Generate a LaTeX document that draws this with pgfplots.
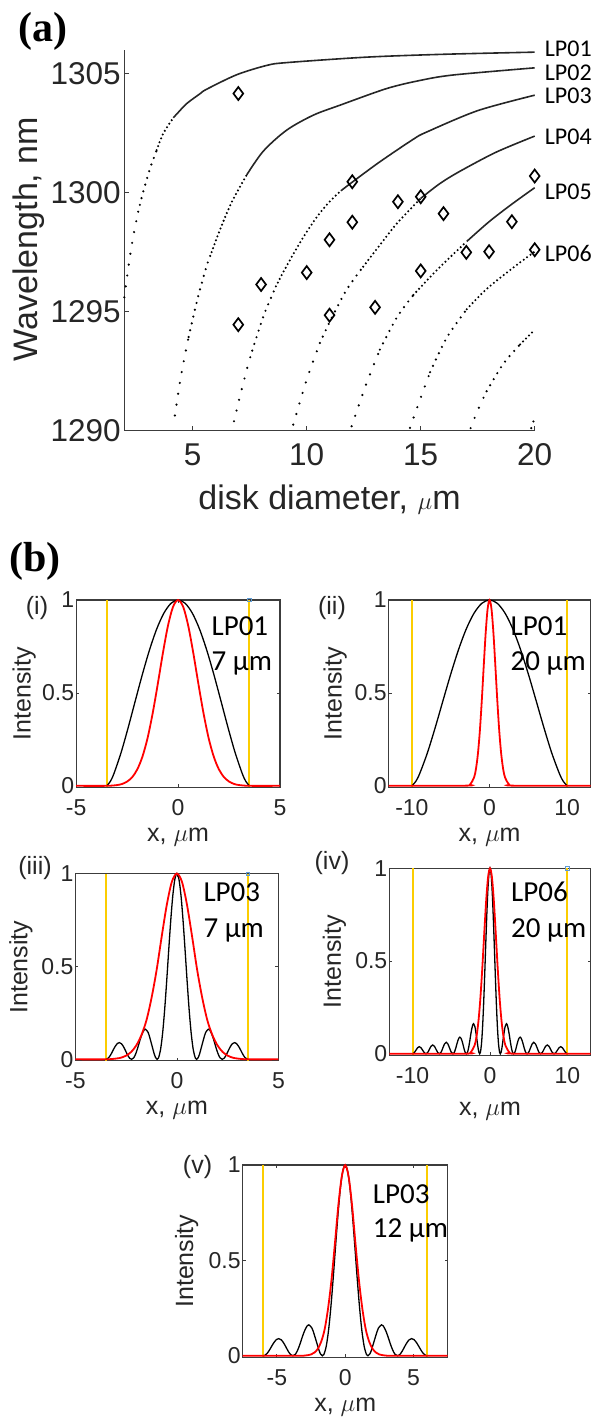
\documentclass[border=0pt]{standalone}
\usepackage{pgfplots}
\pgfplotsset{compat=1.18}
\usepackage{pgfplotstable}
\usepackage{fontspec}
\setmainfont{Liberation Sans}
\newfontfamily\calib{Carlito}
\newfontfamily\tnr{Liberation Serif}
\definecolor{myyel}{RGB}{252,205,0}
\definecolor{myblue}{RGB}{95,155,210}
\definecolor{axgray}{RGB}{60,60,60}
\definecolor{txtgray}{RGB}{38,38,38}

% ---------- panel (a): mode curves ----------
\pgfplotstableread{
x y
2.00 1295.60
2.22 1297.15
2.39 1298.15
2.61 1299.20
2.83 1300.04
3.13 1301.02
3.42 1301.79
3.71 1302.49
4.15 1303.15
4.37 1303.38
4.74 1303.75
5.32 1304.16
5.61 1304.35
6.93 1304.96
8.24 1305.35
9.12 1305.47
12.63 1305.70
16.00 1305.82
20.00 1305.91
}\lpA
\pgfplotstableread{
x y
4.22 1290.63
4.41 1291.86
4.62 1292.98
4.82 1293.93
5.03 1294.80
5.22 1295.57
5.42 1296.27
5.61 1296.92
5.83 1297.50
6.20 1298.45
6.71 1299.60
7.37 1300.75
8.10 1301.75
9.12 1302.63
10.29 1303.26
11.46 1303.68
13.51 1304.38
14.97 1304.72
16.43 1304.95
20.00 1305.25
}\lpB
\pgfplotstableread{
x y
6.81 1290.39
7.02 1291.23
7.22 1292.00
7.41 1292.70
7.61 1293.36
7.81 1293.96
8.00 1294.52
8.21 1295.08
8.43 1295.57
8.65 1296.06
8.90 1296.53
9.19 1297.04
9.63 1297.78
10.00 1298.35
10.50 1299.05
11.00 1299.62
11.50 1300.08
12.02 1300.46
13.21 1301.30
14.68 1302.25
15.26 1302.55
17.50 1303.45
20.00 1304.10
}\lpC
\pgfplotstableread{
x y
9.41 1290.25
10.00 1292.14
10.58 1293.68
11.02 1294.59
11.75 1295.92
12.48 1296.89
13.21 1297.80
13.95 1298.70
15.00 1299.76
15.85 1300.39
16.72 1300.90
18.30 1301.70
20.00 1302.38
}\lpD
\pgfplotstableread{
x y
11.97 1290.18
12.63 1292.00
13.21 1293.40
13.95 1294.75
14.68 1295.70
15.41 1296.45
16.14 1297.15
17.02 1297.95
18.00 1298.78
19.00 1299.52
20.00 1300.21
}\lpE
\pgfplotstableread{
x y
14.53 1290.11
14.97 1291.30
15.41 1292.45
16.14 1293.90
17.02 1295.10
17.89 1295.95
19.06 1296.85
20.00 1297.52
}\lpF
\pgfplotstableread{
x y
17.19 1290.10
17.50 1290.85
17.89 1291.65
18.62 1292.80
19.36 1293.62
20.00 1294.24
}\lpG
\pgfplotstableread{
x y
19.85 1290.10
20.00 1290.55
}\lpH
\pgfplotstableread{
x y
7 1304.17
7 1294.45
8 1296.14
10 1296.64
11 1298.02
11 1294.85
12 1300.46
12 1298.76
13 1295.18
14 1299.62
15 1299.83
15 1296.71
16 1299.12
17 1297.49
18 1297.52
19 1298.78
20 1300.70
20 1297.60
}\diam

% ---------- panel (b) profiles ----------
\pgfplotstableread{
x y
-3.5 0
-3.325 0.0237
-3.15 0.0654
-2.8 0.1780
-2.45 0.3132
-2.1 0.4579
-1.75 0.6009
-1.4 0.7323
-1.05 0.8440
-0.7 0.9289
-0.35 0.9820
0 1
0.35 0.9820
0.7 0.9289
1.05 0.8440
1.4 0.7323
1.75 0.6009
2.1 0.4579
2.45 0.3132
2.8 0.1780
3.15 0.0654
3.325 0.0237
3.5 0
}\bIk
\pgfplotstableread{
x y
-5 0
-3.5 0
-3 0.004
-2.75 0.010
-2.5 0.023
-2.25 0.047
-2 0.089
-1.75 0.157
-1.5 0.256
-1.25 0.389
-1 0.546
-0.75 0.712
-0.5 0.860
-0.25 0.963
0 1
0.25 0.963
0.5 0.860
0.75 0.712
1 0.546
1.25 0.389
1.5 0.256
1.75 0.157
2 0.089
2.25 0.047
2.5 0.023
2.75 0.010
3 0.004
3.5 0
5 0
}\bIr
\pgfplotstableread{
x y
-10 0
-9.5 0.0237
-9 0.0654
-8 0.1780
-7 0.3132
-6 0.4579
-5 0.6009
-4 0.7323
-3 0.8440
-2 0.9289
-1 0.9820
0 1
1 0.9820
2 0.9289
3 0.8440
4 0.7323
5 0.6009
6 0.4579
7 0.3132
8 0.1780
9 0.0654
9.5 0.0237
10 0
}\bIIk
\pgfplotstableread{
x y
-13 0
-3 0.001
-2.5 0.008
-2 0.044
-1.75 0.091
-1.5 0.172
-1.25 0.295
-1 0.458
-0.75 0.644
-0.5 0.822
-0.25 0.952
0 1
0.25 0.952
0.5 0.822
0.75 0.644
1 0.458
1.25 0.295
1.5 0.172
1.75 0.091
2 0.044
2.5 0.008
3 0.001
13 0
}\bIIr
\pgfplotstableread{
x y
-3.5 0
-3.4377 0.0018
-3.3366 0.0118
-3.2355 0.0295
-3.1344 0.0510
-3.0333 0.0709
-2.9322 0.0852
-2.8376 0.0900
-2.7300 0.0838
-2.6289 0.0676
-2.5278 0.0457
-2.4266 0.0227
-2.3255 0.0057
-2.2325 0
-2.1233 0.0085
-2.0222 0.0315
-1.9211 0.0647
-1.8200 0.1027
-1.7189 0.1351
-1.6178 0.1577
-1.5498 0.1622
-1.4155 0.1445
-1.3144 0.1088
-1.2133 0.0676
-1.1122 0.0271
-1.0515 0.0094
-0.9727 0
-0.9100 0.0067
-0.8089 0.0501
-0.7078 0.1362
-0.6067 0.2620
-0.5056 0.4172
-0.4044 0.5855
-0.3033 0.7469
-0.2022 0.8807
-0.1011 0.9691
0 1
0.1011 0.9691
0.2022 0.8807
0.3033 0.7469
0.4044 0.5855
0.5056 0.4172
0.6067 0.2620
0.7078 0.1362
0.8089 0.0501
0.9100 0.0067
0.9727 0
1.0515 0.0094
1.1122 0.0271
1.2133 0.0676
1.3144 0.1088
1.4155 0.1445
1.5498 0.1622
1.6178 0.1577
1.7189 0.1351
1.8200 0.1027
1.9211 0.0647
2.0222 0.0315
2.1233 0.0085
2.2325 0
2.3255 0.0057
2.4266 0.0227
2.5278 0.0457
2.6289 0.0676
2.7300 0.0838
2.8376 0.0900
2.9322 0.0852
3.0333 0.0709
3.1344 0.0510
3.2355 0.0295
3.3366 0.0118
3.4377 0.0018
3.5 0
}\bIIIk
\pgfplotstableread{
x y
-5 0
-3.5 0
-3 0.004
-2.75 0.009
-2.5 0.020
-2.25 0.040
-2 0.075
-1.75 0.130
-1.5 0.210
-1.25 0.330
-1 0.480
-0.75 0.660
-0.5 0.830
-0.25 0.955
0 1
0.25 0.955
0.5 0.830
0.75 0.660
1 0.480
1.25 0.330
1.5 0.210
1.75 0.130
2 0.075
2.25 0.040
2.5 0.020
2.75 0.009
3 0.004
3.5 0
5 0
}\bIIIr
\pgfplotstableread{
x y
-10.0 0
-9.7828 0.0057
-9.5656 0.0193
-9.3484 0.0329
-9.1312 0.0386
-8.9140 0.0329
-8.6968 0.0193
-8.4795 0.0057
-8.2623 0
-8.0453 0.0070
-7.8281 0.0239
-7.6110 0.0407
-7.3938 0.0477
-7.1766 0.0407
-6.9595 0.0239
-6.7423 0.0070
-6.5251 0
-6.3081 0.0091
-6.0911 0.0312
-5.8740 0.0533
-5.6570 0.0624
-5.4399 0.0533
-5.2229 0.0312
-5.0058 0.0091
-4.7888 0
-4.7036 0.0018
-4.5653 0.0118
-4.4270 0.0295
-4.2886 0.0510
-4.1503 0.0709
-4.0119 0.0852
-3.8824 0.0900
-3.7352 0.0838
-3.5969 0.0676
-3.4586 0.0457
-3.3202 0.0227
-3.1819 0.0057
-3.0546 0
-2.9052 0.0085
-2.7669 0.0315
-2.6285 0.0647
-2.4902 0.1027
-2.3518 0.1351
-2.2135 0.1577
-2.1205 0.1622
-1.9368 0.1445
-1.7985 0.1088
-1.6601 0.0676
-1.5218 0.0271
-1.4388 0.0094
-1.3308 0
-1.2451 0.0067
-1.1067 0.0501
-0.9684 0.1362
-0.8301 0.2620
-0.6917 0.4172
-0.5534 0.5855
-0.4150 0.7469
-0.2767 0.8807
-0.1383 0.9691
0 1
0.1383 0.9691
0.2767 0.8807
0.4150 0.7469
0.5534 0.5855
0.6917 0.4172
0.8301 0.2620
0.9684 0.1362
1.1067 0.0501
1.2451 0.0067
1.3308 0
1.4388 0.0094
1.5218 0.0271
1.6601 0.0676
1.7985 0.1088
1.9368 0.1445
2.1205 0.1622
2.2135 0.1577
2.3518 0.1351
2.4902 0.1027
2.6285 0.0647
2.7669 0.0315
2.9052 0.0085
3.0546 0
3.1819 0.0057
3.3202 0.0227
3.4586 0.0457
3.5969 0.0676
3.7352 0.0838
3.8824 0.0900
4.0119 0.0852
4.1503 0.0709
4.2886 0.0510
4.4270 0.0295
4.5653 0.0118
4.7036 0.0018
4.7888 0
5.0058 0.0091
5.2229 0.0312
5.4399 0.0533
5.6570 0.0624
5.8740 0.0533
6.0911 0.0312
6.3081 0.0091
6.5251 0
6.7423 0.0070
6.9595 0.0239
7.1766 0.0407
7.3938 0.0477
7.6110 0.0407
7.8281 0.0239
8.0453 0.0070
8.2623 0
8.4795 0.0057
8.6968 0.0193
8.9140 0.0329
9.1312 0.0386
9.3484 0.0329
9.5656 0.0193
9.7828 0.0057
10.0 0
}\bIVk
\pgfplotstableread{
x y
-6.0 0
-5.8932 0.0018
-5.7199 0.0118
-5.5466 0.0295
-5.3732 0.0510
-5.1999 0.0709
-5.0266 0.0852
-4.8643 0.0900
-4.6799 0.0838
-4.5066 0.0676
-4.3333 0.0457
-4.1599 0.0227
-3.9866 0.0057
-3.8271 0
-3.6399 0.0085
-3.4666 0.0315
-3.2933 0.0647
-3.1199 0.1027
-2.9466 0.1351
-2.7733 0.1577
-2.6568 0.1622
-2.4266 0.1445
-2.2533 0.1088
-2.0800 0.0676
-1.9066 0.0271
-1.8026 0.0094
-1.6674 0
-1.5600 0.0067
-1.3866 0.0501
-1.2133 0.1362
-1.0400 0.2620
-0.8667 0.4172
-0.6933 0.5855
-0.5200 0.7469
-0.3467 0.8807
-0.1733 0.9691
0 1
0.1733 0.9691
0.3467 0.8807
0.5200 0.7469
0.6933 0.5855
0.8667 0.4172
1.0400 0.2620
1.2133 0.1362
1.3866 0.0501
1.5600 0.0067
1.6674 0
1.8026 0.0094
1.9066 0.0271
2.0800 0.0676
2.2533 0.1088
2.4266 0.1445
2.6568 0.1622
2.7733 0.1577
2.9466 0.1351
3.1199 0.1027
3.2933 0.0647
3.4666 0.0315
3.6399 0.0085
3.8271 0
3.9866 0.0057
4.1599 0.0227
4.3333 0.0457
4.5066 0.0676
4.6799 0.0838
4.8643 0.0900
5.0266 0.0852
5.1999 0.0709
5.3732 0.0510
5.5466 0.0295
5.7199 0.0118
5.8932 0.0018
6.0 0
}\bVk
\pgfplotstableread{
x y
-7.5 0
-3.5 0
-3 0.001
-2.75 0.003
-2.5 0.007
-2.25 0.017
-2 0.037
-1.75 0.075
-1.5 0.140
-1.25 0.250
-1 0.400
-0.75 0.590
-0.5 0.790
-0.25 0.940
0 1
0.25 0.940
0.5 0.790
0.75 0.590
1 0.400
1.25 0.250
1.5 0.140
1.75 0.075
2 0.037
2.25 0.017
2.5 0.007
2.75 0.003
3 0.001
3.5 0
7.5 0
}\bVr

\pgfplotsset{
  dotA/.style={smooth, line width=2.4pt, line cap=round, dash pattern=on 0pt off 11pt, black},
  dotB/.style={smooth, line width=2.4pt, line cap=round, dash pattern=on 0pt off 7pt, black},
  dotC/.style={smooth, line width=2.3pt, line cap=round, dash pattern=on 0pt off 4.2pt, black},
  solidL/.style={smooth, line width=1.6pt, black!85},
  bpanel/.style={
    scale only axis, clip=false,
    ymin=-0.008, ymax=1, ytick={0,0.5,1},
    tick align=inside, major tick length=3pt,
    axis line style={line width=1.3pt, axgray},
    tick style={axgray, line width=0.8pt},
    tick label style={font=\fontsize{23}{23}\selectfont, text=txtgray},
    /pgf/number format/assume math mode=true,
    xticklabel style={yshift=-8.5pt},
    yticklabel style={xshift=1.5pt},
    label style={font=\fontsize{25}{25}\selectfont, text=txtgray},
    xlabel={x, $\mu$m}, ylabel={Intensity},
  },
  yel/.style={myyel, line width=2pt},
  blk/.style={black, line width=1.3pt, smooth},
  rd/.style={red, line width=1.8pt, smooth},
  bmark/.style={only marks, mark=square, mark size=1.6pt, myblue, mark options={line width=0.8pt}},
}
\tikzset{lplab/.style={anchor=west, inner sep=0pt, xshift=10pt, font=\calib\fontsize{24}{24}\selectfont}}
\newcommand{\seg}[4]{\addplot[#1, restrict x to domain=#2:#3] table {#4};}

\begin{document}
\begin{tikzpicture}
\useasboundingbox (0,0) rectangle (597pt,-1417pt);

% ===== (a) =====
\begin{axis}[
  at={(124.3pt,-50pt)}, anchor=north west,
  scale only axis, width=410.4pt, height=380.5pt,
  xmin=2, xmax=20, ymin=1290, ymax=1306,
  axis x line*=bottom, axis y line*=left,
  xtick={5,10,15,20}, ytick={1290,1295,1300,1305},
  scaled ticks=false,
  tick align=inside, major tick length=4.5pt,
  axis line style={line width=1.6pt, axgray},
  tick style={axgray, line width=1pt},
  tick label style={font=\fontsize{31.5}{31.5}\selectfont, text=txtgray},
  /pgf/number format/assume math mode=true,
  /pgf/number format/1000 sep={},
  xticklabel style={yshift=-9.7pt},
  xlabel={disk diameter, $\mu$m}, ylabel={Wavelength, nm},
  label style={font=\fontsize{34}{34}\selectfont, text=txtgray},
  xlabel style={at={(axis description cs:0.5,-0.1827)}, anchor=center},
  ylabel style={at={(axis description cs:-0.2332,0.503)}, anchor=center},
  clip=false,
]
\seg{dotA}{2.00}{2.61}{\lpA}
\seg{dotB}{2.61}{3.42}{\lpA}
\seg{dotC}{3.42}{4.15}{\lpA}
\seg{solidL}{4.15}{20}{\lpA}
\seg{dotA}{4.22}{4.82}{\lpB}
\seg{dotB}{4.82}{5.83}{\lpB}
\seg{dotC}{5.83}{7.37}{\lpB}
\seg{solidL}{7.37}{20}{\lpB}
\seg{dotA}{6.81}{7.61}{\lpC}
\seg{dotB}{7.61}{8.65}{\lpC}
\seg{dotC}{8.65}{11.5}{\lpC}
\seg{solidL}{11.5}{20}{\lpC}
\seg{dotA}{9.41}{10.58}{\lpD}
\seg{dotB}{10.58}{12.48}{\lpD}
\seg{dotC}{12.48}{15.0}{\lpD}
\seg{solidL}{15.0}{20}{\lpD}
\seg{dotA}{11.97}{13.21}{\lpE}
\seg{dotB}{13.21}{14.68}{\lpE}
\seg{dotC}{14.68}{17.02}{\lpE}
\seg{solidL}{17.02}{20}{\lpE}
\seg{dotA}{14.53}{15.41}{\lpF}
\seg{dotB}{15.41}{17.02}{\lpF}
\seg{dotC}{17.02}{20}{\lpF}
\seg{dotA}{17.19}{17.89}{\lpG}
\seg{dotB}{17.89}{19.36}{\lpG}
\seg{dotC}{19.36}{20}{\lpG}
\addplot[dotB] table {\lpH};
\addplot[only marks, mark=diamond, mark size=6.5pt, mark options={line width=1.7pt, black}] table {\diam};
\node[lplab] at (axis cs:20,1306.04) {LP01};
\node[lplab] at (axis cs:20,1305.03) {LP02};
\node[lplab] at (axis cs:20,1304.06) {LP03};
\node[lplab] at (axis cs:20,1302.37) {LP04};
\node[lplab] at (axis cs:20,1300.02) {LP05};
\node[lplab] at (axis cs:20,1297.44) {LP06};
\end{axis}

% ===== (i) =====
\begin{axis}[bpanel, at={(76.2pt,-600pt)}, anchor=north west,
  width=203.8pt, height=187.3pt, xmin=-5, xmax=5, xtick={-5,0,5},
  xlabel style={at={(axis description cs:0.5,-0.2637)}, anchor=center},
  ylabel style={at={(axis description cs:-0.255,0.5)}, anchor=center}]
\addplot[yel] coordinates {(-3.5,-0.008) (-3.5,1)};
\addplot[yel] coordinates {(3.5,-0.008) (3.5,1)};
\addplot[blk] table {\bIk};
\addplot[rd] table {\bIr};
\addplot[bmark] coordinates {(3.5,1)};
\end{axis}

% ===== (ii) =====
\begin{axis}[bpanel, at={(388.6pt,-600pt)}, anchor=north west,
  width=201.9pt, height=187.3pt, xmin=-13, xmax=13, xtick={-10,0,10},
  xlabel style={at={(axis description cs:0.5,-0.2637)}, anchor=center},
  ylabel style={at={(axis description cs:-0.2645,0.5)}, anchor=center}]
\addplot[yel] coordinates {(-10,-0.008) (-10,1)};
\addplot[yel] coordinates {(10,-0.008) (10,1)};
\addplot[blk] table {\bIIk};
\addplot[rd] table {\bIIr};
\end{axis}

% ===== (iii) =====
\begin{axis}[bpanel, at={(75.4pt,-873.5pt)}, anchor=north west,
  width=203pt, height=187.3pt, xmin=-5, xmax=5, xtick={-5,0,5},
  xlabel style={at={(axis description cs:0.5,-0.262)}, anchor=center},
  ylabel style={at={(axis description cs:-0.268,0.5)}, anchor=center}]
\addplot[yel] coordinates {(-3.5,-0.008) (-3.5,1)};
\addplot[yel] coordinates {(3.5,-0.008) (3.5,1)};
\addplot[blk] table {\bIIIk};
\addplot[rd] table {\bIIIr};
\addplot[bmark] coordinates {(3.5,1)};
\end{axis}

% ===== (iv) =====
\begin{axis}[bpanel, at={(389.3pt,-868.3pt)}, anchor=north west,
  width=201.4pt, height=187pt, xmin=-13, xmax=13, xtick={-10,0,10},
  xlabel style={at={(axis description cs:0.5,-0.30)}, anchor=center},
  ylabel style={at={(axis description cs:-0.273,0.5)}, anchor=center}]
\addplot[yel] coordinates {(-10,-0.008) (-10,1)};
\addplot[yel] coordinates {(10,-0.008) (10,1)};
\addplot[blk] table {\bIVk};
\addplot[rd] table {\bIIr};
\addplot[bmark] coordinates {(10,1)};
\end{axis}

% ===== (v) =====
\begin{axis}[bpanel, at={(242.7pt,-1165pt)}, anchor=north west,
  width=205pt, height=192.3pt, xmin=-7.5, xmax=7.5, xtick={-5,0,5},
  xlabel style={at={(axis description cs:0.5,-0.257)}, anchor=center},
  ylabel style={at={(axis description cs:-0.273,0.5)}, anchor=center}]
\addplot[yel] coordinates {(-6,-0.008) (-6,1)};
\addplot[yel] coordinates {(6,-0.008) (6,1)};
\addplot[blk] table {\bVk};
\addplot[rd] table {\bVr};
\end{axis}

% ===== annotations =====
\node[font=\tnr\bfseries\fontsize{42}{42}\selectfont] at (43pt,-31pt) {(a)};
\node[font=\tnr\bfseries\fontsize{42}{42}\selectfont] at (35pt,-561pt) {(b)};
\node[font=\fontsize{25}{25}\selectfont, text=txtgray] at (37pt,-608.5pt) {(i)};
\node[font=\fontsize{25}{25}\selectfont, text=txtgray] at (332pt,-608.5pt) {(ii)};
\node[font=\fontsize{25}{25}\selectfont, text=txtgray] at (35pt,-868pt) {(iii)};
\node[font=\fontsize{25}{25}\selectfont, text=txtgray] at (332pt,-863pt) {(iv)};
\node[font=\fontsize{25}{25}\selectfont, text=txtgray] at (197.5pt,-1167.5pt) {(v)};
\begin{scope}[every node/.style={anchor=base west, inner sep=0pt, font=\calib\fontsize{29}{29}\selectfont}]
\node at (211.4pt,-635pt) {LP01};
\node at (211.4pt,-670pt) {7 μm};
\node at (510.5pt,-635pt) {LP01};
\node at (510.5pt,-670pt) {20 μm};
\node at (203.3pt,-901.7pt) {LP03};
\node at (203.3pt,-937.3pt) {7 μm};
\node at (511pt,-901.7pt) {LP06};
\node at (511pt,-937.3pt) {20 μm};
\node at (372.7pt,-1203.3pt) {LP03};
\node at (372.7pt,-1237.3pt) {12 μm};
\end{scope}
\end{tikzpicture}
\end{document}
